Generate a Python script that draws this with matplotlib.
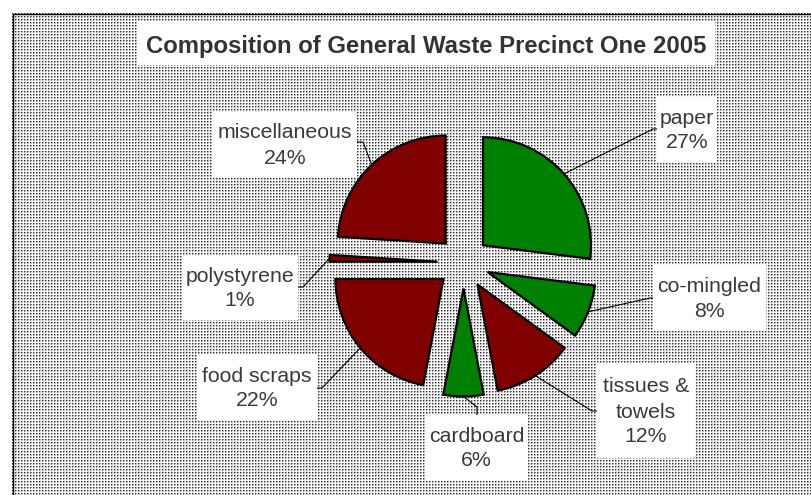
import numpy as np
import matplotlib
matplotlib.use('Agg')
import matplotlib.pyplot as plt
from matplotlib.patches import Rectangle
from matplotlib.lines import Line2D

# ---------------- data ----------------
categories = ['paper', 'co-mingled', 'tissues &\ntowels', 'cardboard',
              'food scraps', 'polystyrene', 'miscellaneous']
percentages = [27, 8, 12, 6, 22, 1, 24]
slice_colors = ['#008000', '#008000', '#800000', '#008000',
                '#800000', '#800000', '#800000']
title_text = 'Composition of General Waste Precinct One 2005'

# ---------------- layout (image pixel coords, y from top) ----------------
W, H = 811, 495
label_boxes = {  # left, top, right, bottom
    'paper': (657, 97, 717, 162),
    'co-mingled': (653, 265, 766, 331),
    'tissues &\ntowels': (597, 364, 695, 458),
    'cardboard': (425, 415, 528, 480),
    'food scraps': (197, 355, 317, 420),
    'polystyrene': (182, 255, 298, 320),
    'miscellaneous': (213, 112, 357, 177),
}
leader_ends = {  # elbow point, box attach point
    'paper': ((653, 129), (657, 129)),
    'co-mingled': ((650, 298), (653, 298)),
    'tissues &\ntowels': ((592, 411), (597, 411)),
    'cardboard': ((477, 407), (477, 415)),
    'food scraps': ((322, 388), (317, 388)),
    'polystyrene': ((303, 287), (298, 287)),
    'miscellaneous': ((363, 142), (357, 142)),
}

plt.rcParams['font.family'] = ['Liberation Sans', 'DejaVu Sans']
fig = plt.figure(figsize=(W / 100, H / 100), dpi=100)
fig.patch.set_facecolor('white')

# dotted background pattern of the chart area
x0, ytop = 12, 13
pw, ph = W - x0, H - ytop
tile = np.array([[0.18, 0.62, 0.98],
                 [0.62, 0.84, 0.98],
                 [0.98, 0.98, 0.98]])
pat = np.tile(tile, (ph // 3 + 1, pw // 3 + 1))[:ph, :pw]
for cxs in range(35, W, 123):
    pat[:, cxs - x0] = 1.0
rgb = np.dstack([pat] * 3)
fig.figimage(rgb, xo=x0, yo=0, origin='upper', zorder=-5)

ax = fig.add_axes([0, 0, 1, 1])
ax.set_zorder(2)
ax.patch.set_visible(False)

def fy(y):
    return H - y

# chart area border (top & left visible)
ax.add_line(Line2D([x0 + 0.5, x0 + 0.5, W], [0, fy(ytop) - 0.5, fy(ytop) - 0.5],
                   color='black', lw=1.0, solid_joinstyle='miter'))

R = 108
center = (463.5, fy(262.5))
wedges, _ = ax.pie(percentages, explode=[26] * len(percentages),
                   colors=slice_colors, startangle=90, counterclock=False,
                   radius=R, center=center, frame=False,
                   wedgeprops=dict(edgecolor='black', linewidth=1.6,
                                   joinstyle='miter'))
ax.set_xlim(0, W)
ax.set_ylim(0, H)
ax.set_aspect('auto')
ax.axis('off')

text_color = '#3a3a3a'
for w, cat, pct in zip(wedges, categories, percentages):
    l, t, r, b = label_boxes[cat]
    ax.add_patch(Rectangle((l, fy(b)), r - l, b - t, facecolor='white',
                           edgecolor='none', zorder=3))
    ax.text((l + r) / 2, fy((t + b) / 2) - 1, f'{cat}\n{pct}%', ha='center',
            va='center', fontsize=15.3, color=text_color, linespacing=1.4,
            zorder=4, multialignment='center')
    th = np.deg2rad((w.theta1 + w.theta2) / 2)
    px = w.center[0] + w.r * np.cos(th)
    py = w.center[1] + w.r * np.sin(th)
    (ex, ey), (bx, by) = leader_ends[cat]
    ax.add_line(Line2D([px, ex, bx], [py, fy(ey), fy(by)], color='black',
                       lw=0.8, zorder=2))

# title box
ax.add_patch(Rectangle((138, fy(65)), 715 - 138, 44, facecolor='white',
                       edgecolor='none', zorder=3))
ax.text(426.5, fy(53), title_text, ha='center', va='baseline',
        fontsize=17.2, fontweight='bold', color='#333333', zorder=4)

fig.savefig('out.png', dpi=100)
